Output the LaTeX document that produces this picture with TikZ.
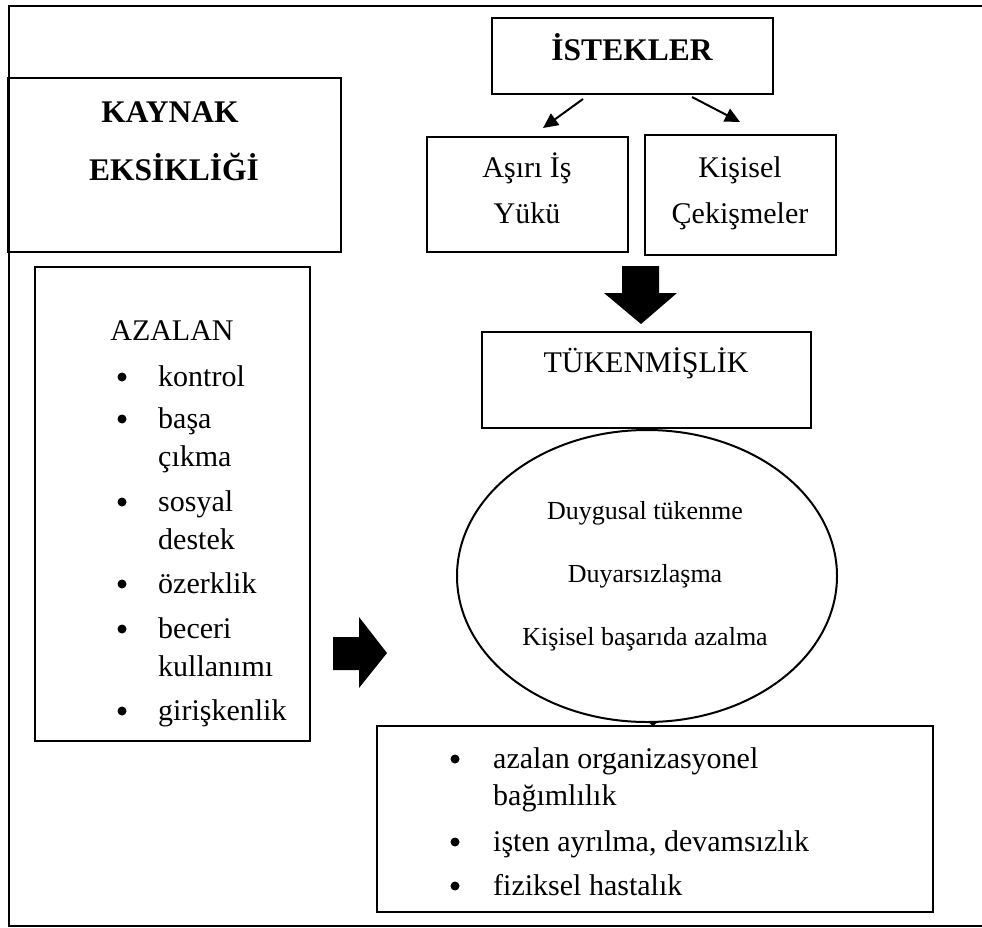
\documentclass[tikz,border=0pt]{standalone}
\usepackage{fontspec}
\setmainfont{Liberation Serif}
\usetikzlibrary{arrows.meta,shapes.geometric}
\begin{document}
\begin{tikzpicture}[x=1pt,y=-1pt,
  box/.style={draw, line width=2pt, inner sep=0pt},
  txt/.style={anchor=base, inner sep=0pt, font=\fontsize{30}{30}\selectfont},
  btxt/.style={anchor=base, inner sep=0pt, font=\fontsize{31.5}{31.5}\selectfont\bfseries},
  ltxt/.style={anchor=base west, inner sep=0pt, font=\fontsize{30}{30}\selectfont},
  stxt/.style={anchor=base, inner sep=0pt, font=\fontsize{26}{26}\selectfont},
  thinarrow/.style={line width=2pt, -{Triangle[length=15pt,width=14pt]}},
  blockarrow/.style={fill=black}]
\useasboundingbox (0,0) rectangle (982,927);
\draw[line width=2.5pt] (982,6) -- (9,6) -- (9,926) -- (982,926);
% boxes
\node[box, minimum width=333, minimum height=174] (kaynak) at (174.5,165) {};
\node[box, minimum width=275, minimum height=474] (azalan) at (172.5,504) {};
\node[box, minimum width=281, minimum height=76] (istek) at (632.5,56) {};
\node[box, minimum width=201, minimum height=115] (asiri) at (527.5,194.5) {};
\node[box, minimum width=191, minimum height=120] (kisisel) at (740.5,195) {};
\node[box, minimum width=329, minimum height=96] (tuken) at (646.5,380) {};
\node[draw, line width=2pt, ellipse, minimum width=380, minimum height=292, inner sep=0pt] (elli) at (647,576) {};
\node[box, minimum width=556, minimum height=186] (sonuc) at (655,819) {};
% texts
\node[btxt] (t1) at (632,60) {İSTEKLER};
\node[btxt] (t2) at (170,122) {KAYNAK};
\node[btxt] (t3) at (174,180) {EKSİKLİĞİ};
\node[txt] (t4) at (527,177) {Aşırı İş};
\node[txt] (t5) at (527,223) {Yükü};
\node[txt] (t6) at (740,177) {Kişisel};
\node[txt] (t7) at (740,223) {Çekişmeler};
\node[txt] (t8) at (646,372) {TÜKENMİŞLİK};
\node[txt] (t9) at (172,340) {AZALAN};
\foreach \y/\t/\b in {386/kontrol/1, 428/başa/1, 466/çıkma/0, 511/sosyal/1, 549/destek/0, 593/özerklik/1, 638/beceri/1, 676/kullanımı/0, 720/girişkenlik/1}{
  \node[ltxt] (a\y) at (158,\y) {\t};
  \ifnum\b=1 \fill (122,\y-9) circle (4.5); \fi
}
\node[stxt] (e1) at (645,519) {Duygusal tükenme};
\node[stxt] (e2) at (645,582) {Duyarsızlaşma};
\node[stxt] (e3) at (645,645) {Kişisel başarıda azalma};
\foreach \y/\t/\b in {768/azalan organizasyonel/1, 805/bağımlılık/0, 851/{işten ayrılma, devamsızlık}/1, 895/fiziksel hastalık/1}{
  \node[ltxt] (b\y) at (493,\y) {\t};
  \ifnum\b=1 \fill (455,\y-9) circle (4.5); \fi
}
% arrows
\coordinate (p1) at (583,99);
\coordinate (p2) at (543,128);
\coordinate (q1) at (692,97);
\coordinate (q2) at (740,122);
\draw[thinarrow] (p1) -- (p2);
\draw[thinarrow] (q1) -- (q2);
\fill (622,266) -- (659,266) -- (659,293) -- (677,293) -- (641,324) -- (604,293) -- (622,293) -- cycle;
\fill (333,637) -- (359,637) -- (359,617) -- (387,653) -- (359,688) -- (359,670) -- (333,670) -- cycle;
\fill (647,721) -- (659,721) -- (653,726) -- cycle;
\end{tikzpicture}
\end{document}
